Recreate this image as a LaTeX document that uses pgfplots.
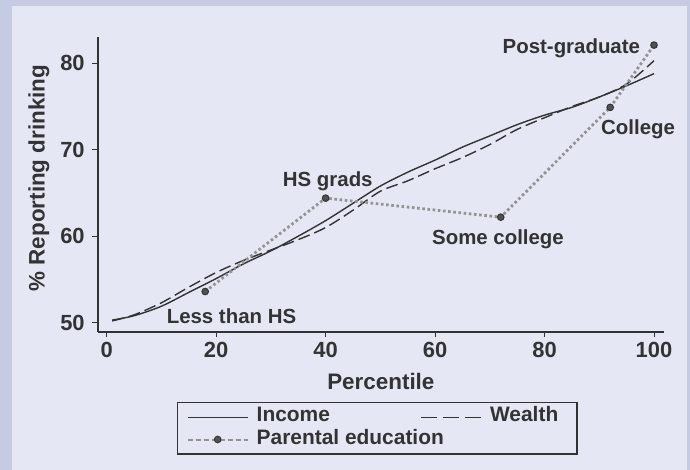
\documentclass[border=0pt]{standalone}
\usepackage{fontspec}
\setmainfont{Liberation Sans}
\usepackage{pgfplots}
\usepackage{pgfplotstable}
\pgfplotsset{compat=1.18}

\definecolor{outerbg}{HTML}{C4CBE3}
\definecolor{panelbg}{HTML}{E5E7F4}
\definecolor{ink}{HTML}{333333}
\definecolor{edugray}{HTML}{939393}

% Legend samples: three long dashes for wealth, short dashes with a centred dot for education
\pgfplotsset{
  wealth legend/.style={legend image code/.code={\draw[##1, dash pattern=on 16bp off 6bp] (0bp,0bp) -- (60bp,0bp);}},
  edu legend/.style={legend image code/.code={\draw[mark repeat=2,mark phase=2,##1, line width=2bp, dash pattern=on 5bp off 3bp] plot coordinates {(0bp,0bp) (30bp,0bp) (60bp,0bp)};}},
}

% Smoothed share reporting drinking by income percentile
\pgfplotstableread{
x y
1 50.3
5 50.8
10 51.9
15 53.5
20 55.1
25 56.8
30 58.3
35 60.0
40 61.8
45 63.8
50 65.8
55 67.4
60 68.8
65 70.3
70 71.6
75 72.9
80 74.0
85 74.9
90 76.1
95 77.4
100 78.8
}\income

% Smoothed share reporting drinking by wealth percentile
\pgfplotstableread{
x y
1 50.2
5 50.9
10 52.3
15 54.1
20 55.8
25 57.2
30 58.4
35 59.6
40 61.0
45 63.0
50 65.2
55 66.4
60 67.8
65 69.1
70 70.6
75 72.35
80 73.7
85 75.0
90 76.1
95 77.6
100 80.3
}\wealth

% Parental education groups, placed at their percentile midpoints
\pgfplotstableread{
x y
18 53.6
40 64.4
72 62.2
92 74.9
100 82.1
}\parented

\newcommand{\chartfont}{\fontsize{20.5}{23}\selectfont\bfseries}
\newcommand{\titlefont}{\fontsize{22.5}{25}\selectfont\bfseries}
\newcommand{\tickfont}{\fontsize{22}{24}\selectfont\bfseries}
\newcommand{\legfont}{\fontsize{21}{24}\selectfont\bfseries}

\begin{document}
\begin{tikzpicture}[x=1bp,y=1bp]
\fill[outerbg] (0,0) rectangle (690,470);
\fill[panelbg] (12,0) rectangle (687,464);
\useasboundingbox (0,0) rectangle (690,470);
\begin{axis}[
  at={(97.7bp,138bp)}, anchor=south west,
  scale only axis, width=566.3bp, height=295bp,
  xmin=-1.64, xmax=101.83, ymin=48.92, ymax=83.04,
  axis x line*=bottom, axis y line*=left,
  axis line style={ink, line width=1.6bp},
  xtick={0,20,40,60,80,100}, ytick={50,60,70,80},
  tick align=outside, major tick length=5.5bp,
  tick style={ink, line width=1bp},
  /pgf/number format/assume math mode=true,
  tick label style={font=\tickfont, text=ink},
  yticklabel style={xshift=-4bp},
  xticklabel style={yshift=-1bp},
  xlabel={Percentile}, ylabel={\% Reporting drinking},
  label style={font=\titlefont, text=ink},
  xlabel style={at={(axis description cs:0.5,0)}, anchor=center, yshift=-49bp},
  ylabel style={at={(axis description cs:-0.1037,0.522)}, anchor=center},
  clip=false,
  legend columns=2,
  legend image code/.code={\draw[mark repeat=2,mark phase=2,#1] plot coordinates {(0bp,0bp) (30bp,0bp) (60bp,0bp)};},
  legend style={
    at={(axis description cs:0.14,-0.2373)}, anchor=north west,
    draw=ink, line width=1.4bp, fill=panelbg,
    font=\legfont, text=ink,
    inner xsep=9bp, inner ysep=5bp,
    nodes={inner sep=0bp, text height=14bp, text depth=5bp},
    /tikz/every odd column/.style={column sep=8bp},
    /tikz/every even column/.style={column sep=14bp},
    row sep=3.3bp,
  },
]
\addplot[ink, line width=1.4bp, smooth] table {\income};
\addplot[ink, line width=1.4bp, dash pattern=on 12bp off 5bp, smooth, wealth legend] table {\wealth};
\addplot[edugray, line width=2.8bp, dash pattern=on 2.6bp off 2.6bp,
  mark=*, mark size=3.3bp,
  mark options={solid, line width=1bp, draw=ink, fill=ink!85}, edu legend] table {\parented};
\legend{\makebox[150bp][l]{Income}, \makebox[78bp][l]{Wealth}, \makebox[150bp][l]{Parental education}}

\node[font=\chartfont, text=ink] at (axis cs:22.8,50.69) {Less than HS};
\node[font=\chartfont, text=ink] at (axis cs:40.4,66.3) {HS grads};
\node[font=\chartfont, text=ink] at (axis cs:71.5,59.68) {Some college};
\node[font=\chartfont, text=ink] at (axis cs:97.1,72.4) {College};
\node[font=\chartfont, text=ink] at (axis cs:84.9,81.73) {Post-graduate};
\end{axis}
\end{tikzpicture}
\end{document}
